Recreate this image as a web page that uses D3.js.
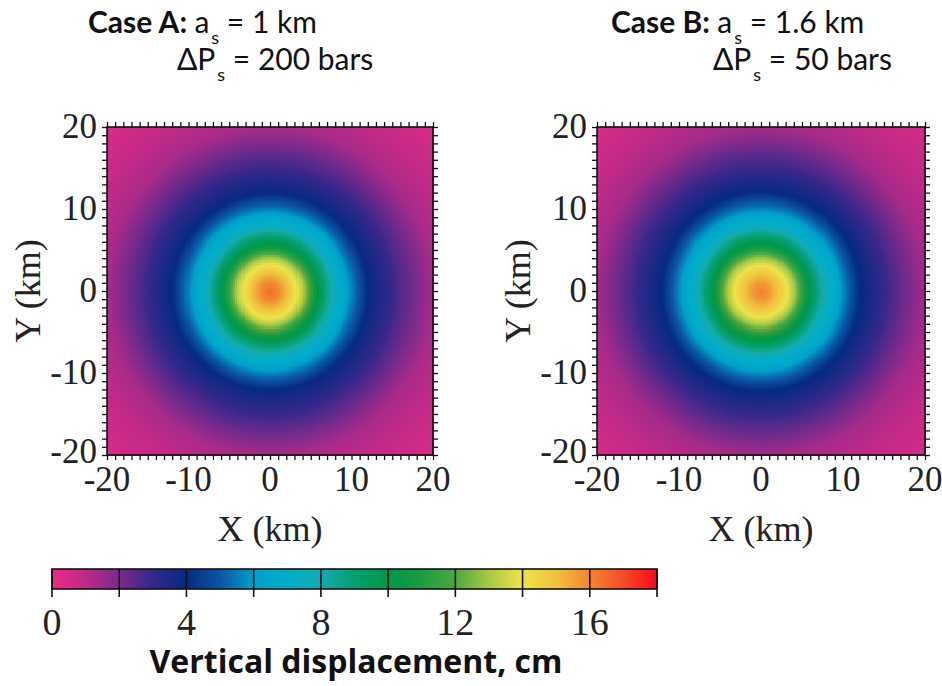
<!DOCTYPE html>
<html>
<head>
<meta charset="utf-8">
<script src="https://cdn.jsdelivr.net/npm/d3@7"></script>
<style>
  html, body { margin: 0; padding: 0; background: #fff; }
  svg { display: block; }
</style>
</head>
<body>
<svg id="chart" width="942" height="686"></svg>
<script>
// ---------- data ----------
// radial profile of vertical displacement (cm) vs distance from centre (km)
const radii = [0, 1, 2, 3, 4, 5, 6, 7, 8, 9, 10, 11, 12, 14, 16, 18, 20, 24, 29];
const caseA = [16.4, 16.0, 15.2, 14.3, 13.2, 11.5, 9.8, 8.6, 7.4, 6.6, 5.6, 4.8, 4.0, 3.3, 2.6, 1.95, 1.3, 0.8, 0.35];
const caseB = [16.1, 15.7, 15.0, 14.2, 13.1, 11.5, 9.9, 8.7, 7.5, 6.7, 5.7, 4.9, 4.1, 3.35, 2.65, 2.0, 1.35, 0.85, 0.38];
const axisTicks = [-20, -10, 0, 10, 20];
const minorTicks = d3.range(-20, 21, 1);
const cbTicks = [0, 2, 4, 6, 8, 10, 12, 14, 16, 18];
const cbLabels = [0, 4, 8, 12, 16];
// colour table (value -> colour)
const cmapValues = [0, 1, 2, 3, 4, 5, 6, 7, 8, 9, 10, 11, 12, 13, 14, 15, 16, 17, 18];
const cmapColors = ["#ee2a86", "#bc2a88", "#7a2a8c", "#34288a", "#062a80", "#0a56a4", "#00a0ca", "#00aecb", "#14aab0", "#04a070",
                    "#00974a", "#1a9c42", "#50a640", "#a8c844", "#eee44a", "#f2c040", "#f28630", "#f44c28", "#ff0418"];

const svg = d3.select("#chart");
const color = d3.scaleLinear().domain(cmapValues).range(cmapColors).clamp(true);

const serif = "'Liberation Serif', 'Times New Roman', serif";
const sans = "Lato, 'Open Sans', 'Noto Sans', sans-serif";
const sans2 = "'Open Sans', 'Noto Sans', sans-serif";

function panel(x0, x1, profile, labelX) {
  const x = d3.scaleLinear().domain([-20, 20]).range([x0, x1]);
  const y = d3.scaleLinear().domain([-20, 20]).range([455, 127]);
  const prof = d3.scaleLinear().domain(radii).range(profile).clamp(true);
  const g = svg.append("g");
  const step = 0.25;
  const cells = [];
  const n = Math.round(40 / step);
  for (let i = 0; i < n; i++) {
    for (let j = 0; j < n; j++) {
      const gx = -20 + i * step, gy = -20 + j * step;
      cells.push({ gx, gy, v: prof(Math.hypot(gx + step / 2, gy + step / 2)) });
    }
  }
  g.append("g").selectAll("rect").data(cells).join("rect")
    .attr("x", d => x(d.gx))
    .attr("y", d => y(d.gy + step))
    .attr("width", x(step) - x(0) + 0.6)
    .attr("height", y(0) - y(step) + 0.6)
    .attr("fill", d => color(d.v))
    .attr("shape-rendering", "crispEdges");

  // minor ticks on all four sides (outward)
  const tk = 5;
  const mk = (ax, tr) => g.append("g").attr("transform", tr)
    .call(ax.tickValues(minorTicks).tickSize(tk).tickFormat(""))
    .call(s => s.select(".domain").remove())
    .call(s => s.selectAll("line").attr("stroke", "#111").attr("stroke-width", 1.3));
  mk(d3.axisLeft(y), `translate(${x0},0)`);
  mk(d3.axisRight(y), `translate(${x1},0)`);
  mk(d3.axisTop(x), `translate(0,127)`);
  mk(d3.axisBottom(x), `translate(0,455)`);

  g.append("rect").attr("x", x0).attr("y", 127).attr("width", x1 - x0).attr("height", 455 - 127)
    .attr("fill", "none").attr("stroke", "#111").attr("stroke-width", 1.6);

  // tick labels
  g.append("g").selectAll("text").data(axisTicks).join("text")
    .attr("x", x0 - 10).attr("y", d => y(d) - (d === -20 ? 3 : 0)).attr("dy", "0.32em")
    .attr("text-anchor", "end").attr("font-family", serif).attr("font-size", 35).attr("fill", "#222")
    .text(d => String(d));
  g.append("g").selectAll("text").data(axisTicks).join("text")
    .attr("x", d => x(d)).attr("y", 491)
    .attr("text-anchor", "middle").attr("font-family", serif).attr("font-size", 35).attr("fill", "#222")
    .text(d => String(d));
  // axis titles
  g.append("text").attr("x", x(0)).attr("y", 541).attr("text-anchor", "middle")
    .attr("font-family", serif).attr("font-size", 36).attr("fill", "#222").text("X (km)");
  g.append("text").attr("transform", `translate(${labelX},${y(0)}) rotate(-90)`).attr("text-anchor", "middle")
    .attr("font-family", serif).attr("font-size", 36).attr("fill", "#222").text("Y (km)");
}

panel(107, 433, caseA, 40);
panel(597, 925, caseB, 530);

// ---------- titles ----------
function title(x, caseLabel, aText, line2x, pText) {
  const t1 = svg.append("text").attr("x", x).attr("y", 33).attr("font-family", sans).attr("font-size", 30).attr("fill", "#111");
  t1.append("tspan").attr("font-weight", "bold").text(caseLabel + " ");
  t1.append("tspan").text("a");
  t1.append("tspan").attr("font-size", 18).attr("dx", 2).attr("dy", 11).text("s");
  t1.append("tspan").attr("dy", -11).text(" = " + aText);
  const t2 = svg.append("text").attr("x", line2x).attr("y", 70).attr("font-family", sans).attr("font-size", 30).attr("fill", "#111");
  t2.append("tspan").text("ΔP");
  t2.append("tspan").attr("font-size", 18).attr("dx", 2).attr("dy", 11).text("s");
  t2.append("tspan").attr("dy", -11).text(" = " + pText);
}
title(88, "Case A:", "1 km", 177, "200 bars");
title(611, "Case B:", "1.6 km", 713, "50 bars");

// ---------- colour bar ----------
const cb = d3.scaleLinear().domain([0, 18]).range([52, 657]);
const cbTop = 569, cbBot = 589;
const cbg = svg.append("g");
const cstep = 0.05;
cbg.selectAll("rect.c").data(d3.range(0, 18, cstep)).join("rect").attr("class", "c")
  .attr("x", d => cb(d)).attr("y", cbTop)
  .attr("width", cb(cstep) - cb(0) + 0.6).attr("height", cbBot - cbTop)
  .attr("fill", d => color(d + cstep / 2))
  .attr("shape-rendering", "crispEdges");
cbg.append("rect").attr("x", cb(0)).attr("y", cbTop).attr("width", cb(18) - cb(0)).attr("height", cbBot - cbTop)
  .attr("fill", "none").attr("stroke", "#111").attr("stroke-width", 1.6);
cbg.selectAll("line.t").data(cbTicks).join("line").attr("class", "t")
  .attr("x1", d => cb(d)).attr("x2", d => cb(d))
  .attr("y1", cbTop).attr("y2", cbBot + 8)
  .attr("stroke", "#111").attr("stroke-width", 1.6);
cbg.selectAll("text.l").data(cbLabels).join("text").attr("class", "l")
  .attr("x", d => cb(d)).attr("y", 635).attr("text-anchor", "middle")
  .attr("font-family", serif).attr("font-size", 38).attr("fill", "#222")
  .text(d => String(d));
svg.append("text").attr("x", 356).attr("y", 673).attr("text-anchor", "middle")
  .attr("font-family", sans2).attr("font-weight", "bold").attr("font-size", 32).attr("fill", "#111")
  .text("Vertical displacement, cm");
</script>
</body>
</html>
